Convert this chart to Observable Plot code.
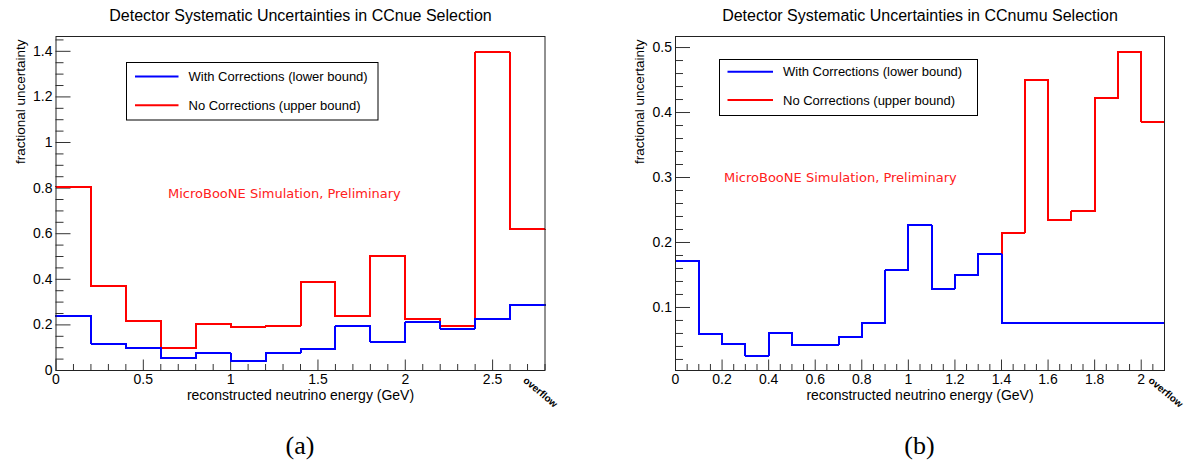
<!DOCTYPE html>
<html>
<head>
<meta charset="utf-8">
<script src="https://cdn.jsdelivr.net/npm/d3@7"></script>
<script src="https://cdn.jsdelivr.net/npm/@observablehq/plot@0.6"></script>
<style>
  body { margin: 0; background: #fff; }
  #page { position: relative; width: 1188px; height: 465px; overflow: hidden; background: #fff; }
  .panel { position: absolute; top: 0; }
  .caption { position: absolute; top: 430px; width: 100px; text-align: center;
             font-family: "Liberation Serif", "DejaVu Serif", serif; font-size: 26px; line-height: 32px; color: #000; }
</style>
</head>
<body>
<div id="page"></div>
<script>
// ---- CCnue selection: 0.2 GeV bins, the last bin holds the overflow ----
const nueEdges = [0, 0.2, 0.4, 0.6, 0.8, 1.0, 1.2, 1.4, 1.6, 1.8, 2.0, 2.2, 2.4, 2.6, 2.8];
const nueWithCorr = [0.238, 0.118, 0.099, 0.054, 0.075, 0.040, 0.078, 0.094, 0.196, 0.125, 0.212, 0.184, 0.226, 0.287];
const nueNoCorr   = [0.807, 0.370, 0.218, 0.099, 0.206, 0.191, 0.196, 0.388, 0.237, 0.503, 0.226, 0.194, 1.395, 0.619];
const nueTicksX = [0, 0.5, 1, 1.5, 2, 2.5];
const nueTicksY = [0, 0.2, 0.4, 0.6, 0.8, 1, 1.2, 1.4];

// ---- CCnumu selection: 0.1 GeV bins, the last bin holds the overflow ----
const numuEdges = [0, 0.1, 0.2, 0.3, 0.4, 0.5, 0.6, 0.7, 0.8, 0.9, 1.0, 1.1, 1.2, 1.3, 1.4, 1.5, 1.6, 1.7, 1.8, 1.9, 2.0, 2.1];
const numuWithCorr = [0.172, 0.059, 0.044, 0.026, 0.061, 0.042, 0.043, 0.054, 0.076, 0.157, 0.227, 0.129, 0.150, 0.182,
                      0.076, 0.076, 0.076, 0.076, 0.076, 0.076, 0.076];
const numuNoCorr   = [0.172, 0.059, 0.044, 0.026, 0.061, 0.042, 0.043, 0.054, 0.076, 0.157, 0.227, 0.129, 0.150, 0.182,
                      0.215, 0.450, 0.234, 0.248, 0.422, 0.493, 0.386];
const numuTicksX = [0, 0.2, 0.4, 0.6, 0.8, 1, 1.2, 1.4, 1.6, 1.8, 2];
const numuTicksY = [0.1, 0.2, 0.3, 0.4, 0.5];

const seriesNames = ["With Corrections (lower bound)", "No Corrections (upper bound)"];
const seriesColors = ["#0000ff", "#ff0000"];
const xTitle = "reconstructed neutrino energy (GeV)";
const yTitle = "fractional uncertainty";
const simLabel = "MicroBooNE Simulation, Preliminary";
const overflowLabel = "overflow";

const FONT = '"Liberation Sans", Arial, Helvetica, sans-serif';
const PANEL_W = 594, PANEL_H = 415, M_TOP = 36, M_BOTTOM = 45;

// Outline of a histogram: one point per bin edge, the last edge repeats the last bin.
function outline(edges, values) {
  return edges.map((x, i) => ({x, y: values[Math.min(i, values.length - 1)]}));
}

function histPanel(o) {
  const frameW = PANEL_W - o.marginLeft - o.marginRight;
  const frameH = PANEL_H - M_TOP - M_BOTTOM;
  const n = o.edges.length;
  const overflowAt = [{x: (o.edges[n - 2] + o.edges[n - 1]) / 2, label: overflowLabel}];
  const xMinor = d3.range(o.xDomain[0], o.xDomain[1] + 1e-9, o.xMinor).filter(v => !o.xTicks.some(t => Math.abs(t - v) < 1e-9));
  const yMinor = d3.range(0, o.yDomain[1], o.yMinor).filter(v => v >= o.yDomain[0] && !o.yTicks.some(t => Math.abs(t - v) < 1e-9));
  const tickColor = "#333";

  const svg = Plot.plot({
    width: PANEL_W,
    height: PANEL_H,
    marginTop: M_TOP,
    marginBottom: M_BOTTOM,
    marginLeft: o.marginLeft,
    marginRight: o.marginRight,
    style: {fontFamily: FONT, fontSize: "14px", color: "#000", background: "#fff", overflow: "visible"},
    x: {domain: o.xDomain},
    y: {domain: o.yDomain},
    marks: [
      // tick labels only; tick marks are drawn inside the frame below
      Plot.axisX(o.xTicks, {tickSize: 0, tickPadding: 4, fontSize: 14, tickFormat: d => `${d}`, label: null}),
      Plot.axisY(o.yTicks, {tickSize: 0, tickPadding: 3.5, fontSize: 14, tickFormat: d => `${d}`, label: null}),
      Plot.tickX(o.xTicks, {x: d => d, insetTop: frameH - 10.5, stroke: tickColor}),
      Plot.tickX(xMinor, {x: d => d, insetTop: frameH - 6, stroke: tickColor}),
      Plot.tickY(o.yTicks, {y: d => d, insetRight: frameW - 15, stroke: tickColor}),
      Plot.tickY(yMinor, {y: d => d, insetRight: frameW - 8, stroke: tickColor}),
      // upper bound first, lower bound drawn on top
      Plot.line(outline(o.edges, o.upper), {x: "x", y: "y", curve: "step-after", stroke: seriesColors[1], strokeWidth: 2, shapeRendering: "crispEdges"}),
      Plot.line(outline(o.edges, o.lower), {x: "x", y: "y", curve: "step-after", stroke: seriesColors[0], strokeWidth: 2, shapeRendering: "crispEdges"}),
      Plot.frame({stroke: "#222", strokeWidth: 1}),
      Plot.text([o.title], {frameAnchor: "top", dy: -27, fontSize: 16, fill: "#000"}),
      Plot.text([xTitle], {frameAnchor: "bottom", dy: 29, fontSize: 14, fill: "#000"}),
      Plot.text([yTitle], {frameAnchor: "top-left", dx: -41, dy: 3, rotate: -90, textAnchor: "end", fontSize: 13.5, fill: "#000"}),
      Plot.text([simLabel], {frameAnchor: "top-left", dx: o.simDx, dy: o.simDy, textAnchor: "start",
                             fontSize: 13, fontFamily: '"DejaVu Sans", sans-serif', fill: "#ff2020"}),
      Plot.text(overflowAt, {x: "x", text: "label", frameAnchor: "bottom", dx: -5, dy: 11, rotate: 40,
                             textAnchor: "start", fontSize: 10, fontWeight: "bold", fill: "#000"})
    ]
  });

  // legend box
  const L = o.legend;
  const g = d3.select(svg).append("g")
    .attr("font-family", FONT).attr("font-size", 13).attr("text-anchor", "start");
  g.append("rect")
    .attr("x", o.marginLeft + L.x).attr("y", M_TOP + L.y)
    .attr("width", L.w).attr("height", L.h)
    .attr("fill", "#fff").attr("stroke", "#000").attr("stroke-width", 1);
  seriesNames.forEach((name, i) => {
    const yy = M_TOP + L.rows[i];
    g.append("line")
      .attr("x1", o.marginLeft + L.lineX1).attr("x2", o.marginLeft + L.lineX2)
      .attr("y1", yy).attr("y2", yy)
      .attr("stroke", seriesColors[i]).attr("stroke-width", 2);
    g.append("text")
      .attr("x", o.marginLeft + L.textX).attr("y", yy).attr("dy", "0.35em")
      .attr("text-anchor", "start").attr("fill", "#000").text(name);
  });
  return svg;
}

const page = document.getElementById("page");

const left = histPanel({
  edges: nueEdges, lower: nueWithCorr, upper: nueNoCorr,
  xDomain: [0, 2.8], yDomain: [0, 1.465], xTicks: nueTicksX, yTicks: nueTicksY,
  xMinor: 0.1, yMinor: 0.05,
  marginLeft: 55.5, marginRight: 49.5,
  title: "Detector Systematic Uncertainties in CCnue Selection",
  simDx: 112, simDy: 152,
  legend: {x: 71, y: 26.5, w: 251.5, h: 57.5, rows: [40.5, 69.3], lineX1: 79.5, lineX2: 123, textX: 133}
});
left.classList.add("panel");
left.style.left = "0px";
page.appendChild(left);

const right = histPanel({
  edges: numuEdges, lower: numuWithCorr, upper: numuNoCorr,
  xDomain: [0, 2.1], yDomain: [0.003, 0.517], xTicks: numuTicksX, yTicks: numuTicksY,
  xMinor: 0.05, yMinor: 0.02,
  marginLeft: 81, marginRight: 24,
  title: "Detector Systematic Uncertainties in CCnumu Selection",
  simDx: 48.5, simDy: 136,
  legend: {x: 44.5, y: 23.5, w: 258, h: 56, rows: [35.7, 64], lineX1: 52.5, lineX2: 98, textX: 108}
});
right.classList.add("panel");
right.style.left = PANEL_W + "px";
page.appendChild(right);

// panel captions, centred under each frame
[["(a)", 55.5 + (PANEL_W - 55.5 - 49.5) / 2], ["(b)", PANEL_W + 81 + (PANEL_W - 81 - 24) / 2]].forEach(([t, cx]) => {
  const d = document.createElement("div");
  d.className = "caption";
  d.style.left = (cx - 50) + "px";
  d.textContent = t;
  page.appendChild(d);
});
</script>
</body>
</html>
